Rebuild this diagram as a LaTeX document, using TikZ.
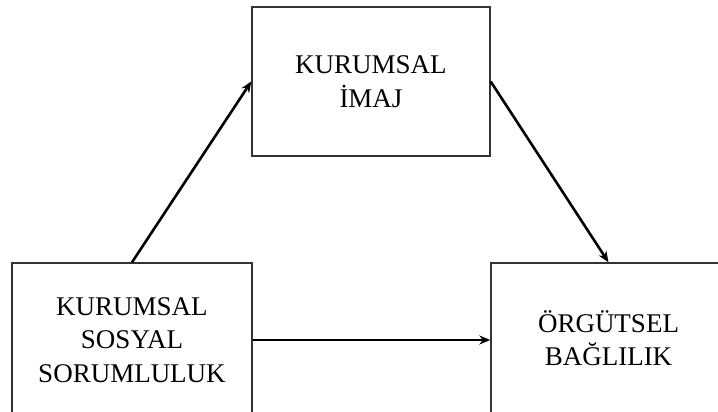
\documentclass[tikz,border=0pt]{standalone}
\usepackage{fontspec}
\setmainfont{Liberation Serif}
\usetikzlibrary{arrows.meta}
\begin{document}
\begin{tikzpicture}[x=1pt,y=1pt,
  box/.style={draw=black!80, line width=1.4pt, rectangle, inner sep=0pt, align=center,
    font=\fontsize{27}{33.5}\selectfont, text=black},
  conn/.style={line width=2.6pt, -{Stealth[length=11pt,width=9pt]}}]
\clip (0,0) rectangle (718,412);
\fill[white] (0,0) rectangle (718,412);
\node[box, minimum width=238pt, minimum height=149pt] (img) at (371,330.5) {KURUMSAL\\İMAJ};
\node[box, minimum width=240pt, minimum height=154pt] (kss) at (132,72) {KURUMSAL\\SOSYAL\\SORUMLULUK};
\node[box, minimum width=235pt, minimum height=150pt] (ob) at (608.5,74) {ÖRGÜTSEL\\BAĞLILIK};
\draw[conn] (kss.north) -- (img.west);
\draw[conn] (img.east) -- (ob.north);
\draw[conn] (kss.east) -- (kss.east -| ob.west);
\end{tikzpicture}
\end{document}
